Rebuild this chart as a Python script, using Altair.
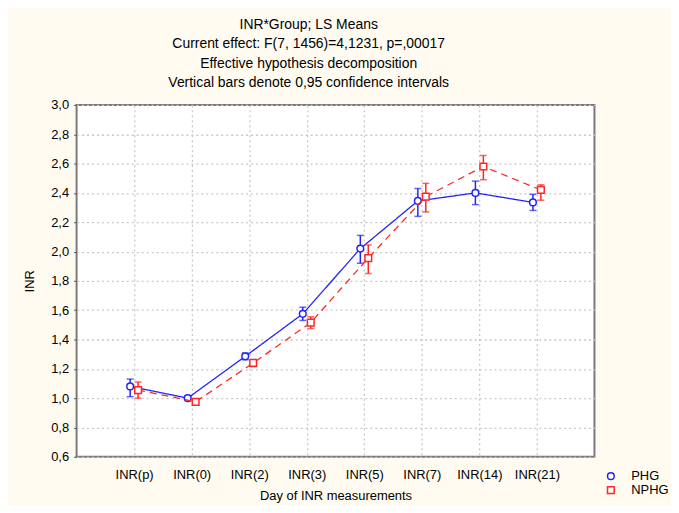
import altair as alt
import pandas as pd

categories = ["INR(p)", "INR(0)", "INR(2)", "INR(3)", "INR(5)", "INR(7)", "INR(14)", "INR(21)"]
groups = ["PHG", "NPHG"]

phg_mean = [1.08, 1.00, 1.285, 1.575, 2.02, 2.345, 2.40, 2.335]
phg_low = [1.01, 0.988, 1.262, 1.53, 1.92, 2.24, 2.32, 2.28]
phg_high = [1.13, 1.012, 1.308, 1.62, 2.11, 2.43, 2.48, 2.39]

nphg_mean = [1.055, 0.975, 1.24, 1.515, 1.955, 2.375, 2.58, 2.42]
nphg_low = [1.00, 0.958, 1.215, 1.475, 1.85, 2.27, 2.49, 2.35]
nphg_high = [1.11, 0.992, 1.265, 1.555, 2.045, 2.465, 2.655, 2.455]

y_ticks = [0.6, 0.8, 1.0, 1.2, 1.4, 1.6, 1.8, 2.0, 2.2, 2.4, 2.6, 2.8, 3.0]

title_lines = [
    "INR*Group; LS Means",
    "Current effect: F(7, 1456)=4,1231, p=,00017",
    "Effective hypothesis decomposition",
    "Vertical bars denote 0,95 confidence intervals",
]

rows = []
for g, m, lo, hi in [("PHG", phg_mean, phg_low, phg_high), ("NPHG", nphg_mean, nphg_low, nphg_high)]:
    for c, a, b, d in zip(categories, m, lo, hi):
        rows.append({"Day": c, "Group": g, "INR": a, "low": b, "high": d})
df = pd.DataFrame(rows)

FONT = "Liberation Sans"
colors = {"PHG": "#2323F5", "NPHG": "#FF2626"}
offsets = {"PHG": -4, "NPHG": 4}
dashes = {"PHG": [1, 0], "NPHG": [7, 5]}

x_axis = alt.Axis(labelAngle=0, ticks=False, labelPadding=12, titlePadding=8,
                  grid=True, gridDash=[2, 3], gridColor="#c8c8c8", gridWidth=1.3,
                  domain=False, labelOverlap=False)
x_scale = alt.Scale(type="point", domain=categories, padding=1)

y_scale = alt.Scale(domain=[0.6, 3.0], nice=False, zero=False)
y_axis = alt.Axis(values=y_ticks, tickCount=30, title="INR", tickSize=3, tickColor="#555",
                  labelPadding=5, titlePadding=14, grid=True, gridDash=[2, 3],
                  gridColor="#c8c8c8", gridWidth=1.3, domain=False, labelOverlap=False,
                  labelExpr="replace(format(datum.value, '.1f'), '.', ',')")


def X():
    return alt.X("Day:N", sort=categories, title="Day of INR measurements", scale=x_scale, axis=x_axis)


def Y(field):
    return alt.Y(field, type="quantitative", title="INR", scale=y_scale, axis=y_axis)


color_scale = alt.Scale(domain=groups, range=[colors[g] for g in groups])
shape_scale = alt.Scale(domain=groups, range=["circle", "square"])

legend_opts = dict(title=None, orient="none", legendX=531, legendY=367,
                   labelFont=FONT, labelFontSize=13, labelColor="black",
                   symbolSize=45, symbolStrokeWidth=1.5, symbolFillColor="white",
                   rowPadding=-1, labelOffset=14, labelLimit=200)

layers = []
for g in groups:
    base = alt.Chart(df).transform_filter(alt.datum.Group == g)
    off = offsets[g]
    line = base.mark_line(color=colors[g], strokeWidth=1.3, strokeDash=dashes[g], xOffset=off).encode(
        x=X(), y=Y("INR")
    )
    rule = base.mark_rule(color=colors[g], strokeWidth=1.5, xOffset=off, x2Offset=off).encode(
        x=X(), y=Y("low"), y2="high:Q"
    )
    cap_lo = base.mark_tick(color=colors[g], thickness=1.5, size=7, orient="horizontal", xOffset=off).encode(
        x=X(), y=Y("low")
    )
    cap_hi = base.mark_tick(color=colors[g], thickness=1.5, size=7, orient="horizontal", xOffset=off).encode(
        x=X(), y=Y("high")
    )
    pts = base.mark_point(filled=True, fill="white", strokeWidth=1.5, size=45, opacity=1, xOffset=off).encode(
        x=X(),
        y=Y("INR"),
        stroke=alt.Stroke("Group:N", scale=color_scale, legend=alt.Legend(**legend_opts)),
        shape=alt.Shape("Group:N", scale=shape_scale, legend=alt.Legend(**legend_opts)),
    )
    layers += [line, rule, cap_lo, cap_hi, pts]

chart = alt.layer(*layers).properties(
    width=521,
    height=354,
    padding={"left": 69, "top": 96, "right": 77, "bottom": 47},
    autosize=alt.AutoSizeParams(type="none"),
    background="#FFFBF0",
    title=alt.Title(text=title_lines, font=FONT, fontSize=14, fontWeight="normal",
                    lineHeight=19.5, anchor="middle", frame="group", offset=9, dx=-27, color="black"),
).configure_view(
    fill="white", stroke="#7a7a7a", strokeWidth=2
).configure_axis(
    labelFont=FONT, labelFontSize=13, labelColor="black",
    titleFont=FONT, titleFontSize=13, titleFontWeight="normal", titleColor="black",
)

chart.save("out.html", embed_options={"renderer": "svg", "actions": False})
